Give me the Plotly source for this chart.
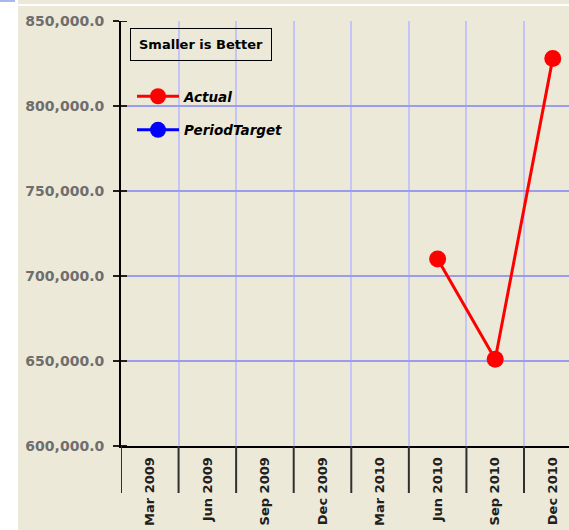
import plotly.graph_objects as go

categories = ["Mar 2009", "Jun 2009", "Sep 2009", "Dec 2009",
              "Mar 2010", "Jun 2010", "Sep 2010", "Dec 2010"]
actual = [None, None, None, None, None, 710000, 651000, 828000]
period_target = [None, None, None, None, None, None, None, None]
y_ticks = [600000, 650000, 700000, 750000, 800000, 850000]

W, H = 569, 530
L, R, T, B = 121, 0, 21, 84
PW, PH = W - L - R, H - T - B


def px(x):
    return (x - L) / PW


def py(y):
    return (H - B - y) / PH


BEIGE = "#ECE9D8"
fig = go.Figure()
fig.add_trace(go.Scatter(
    x=categories, y=actual, name="Actual", mode="lines+markers",
    line=dict(color="#FF0000", width=3),
    marker=dict(color="#FF0000", size=17), legendgroup="a"))
fig.add_trace(go.Scatter(
    x=categories, y=period_target, name="PeriodTarget", mode="lines+markers",
    line=dict(color="#0000FF", width=3),
    marker=dict(color="#0000FF", size=17), legendgroup="b"))

shapes = [
    dict(type="rect", xref="paper", yref="paper", x0=px(0), x1=px(18), y0=py(0), y1=py(H),
         fillcolor="white", line=dict(width=0), layer="below"),
    dict(type="rect", xref="paper", yref="paper", x0=px(18), x1=px(W), y0=py(0), y1=py(H),
         fillcolor=BEIGE, line=dict(width=0), layer="below"),
    dict(type="line", xref="paper", yref="paper", x0=px(18), x1=px(W), y0=py(5), y1=py(5),
         line=dict(color="white", width=2)),
    dict(type="line", xref="paper", yref="paper", x0=px(0), x1=px(15), y0=py(1), y1=py(1),
         line=dict(color="#A8B8E8", width=2)),
]
for i in range(len(categories) + 1):
    shapes.append(dict(type="line", xref="x", yref="paper", x0=i - 0.5, x1=i - 0.5,
                       y0=0, y1=py(493), line=dict(color="#303030", width=2)))
for v in y_ticks:
    shapes.append(dict(type="line", xref="paper", yref="y", x0=0, x1=px(127), y0=v, y1=v,
                       line=dict(color="#202020", width=2)))

fig.update_layout(
    width=W, height=H,
    margin=dict(l=L, r=R, t=T, b=B),
    paper_bgcolor="white", plot_bgcolor=BEIGE,
    shapes=shapes,
    showlegend=True,
    legend=dict(x=px(132), y=py(81), xanchor="left", yanchor="top",
                bgcolor="rgba(0,0,0,0)", borderwidth=0,
                font=dict(family="DejaVu Sans", size=13.5, color="black",
                          weight="bold", style="italic"),
                tracegroupgap=13, traceorder="grouped", itemwidth=42),
    annotations=[dict(xref="paper", yref="paper", x=px(130), y=py(28),
                      xanchor="left", yanchor="top", text="Smaller is Better",
                      showarrow=False, bordercolor="black", borderwidth=1,
                      borderpad=8,
                      font=dict(family="DejaVu Sans", size=13, color="black",
                                weight="bold"))],
    xaxis=dict(type="category", range=[-0.5, -0.5 + PW / 57.57],
               tickson="boundaries", showgrid=True, gridcolor="#C4C4F8", gridwidth=2,
               ticks="", tickangle=-90, showline=True, linecolor="black", linewidth=2,
               tickfont=dict(family="DejaVu Sans", size=13, color="#202020", weight="bold"),
               ticklabelstandoff=4, zeroline=False),
    yaxis=dict(range=[600000, 850000], tickvals=y_ticks, tickformat=",.1f",
               showgrid=True, gridcolor="#9C9CEE", gridwidth=2,
               ticks="outside", ticklen=6, tickwidth=2, tickcolor="#202020",
               showline=True, linecolor="black", linewidth=2,
               tickfont=dict(family="DejaVu Sans", size=14, color="#6E6E6E", weight="bold"),
               ticklabelstandoff=6, zeroline=False),
)
fig.write_html("out.html", config={"displayModeBar": False},
               post_script="document.body.style.margin='0';")
